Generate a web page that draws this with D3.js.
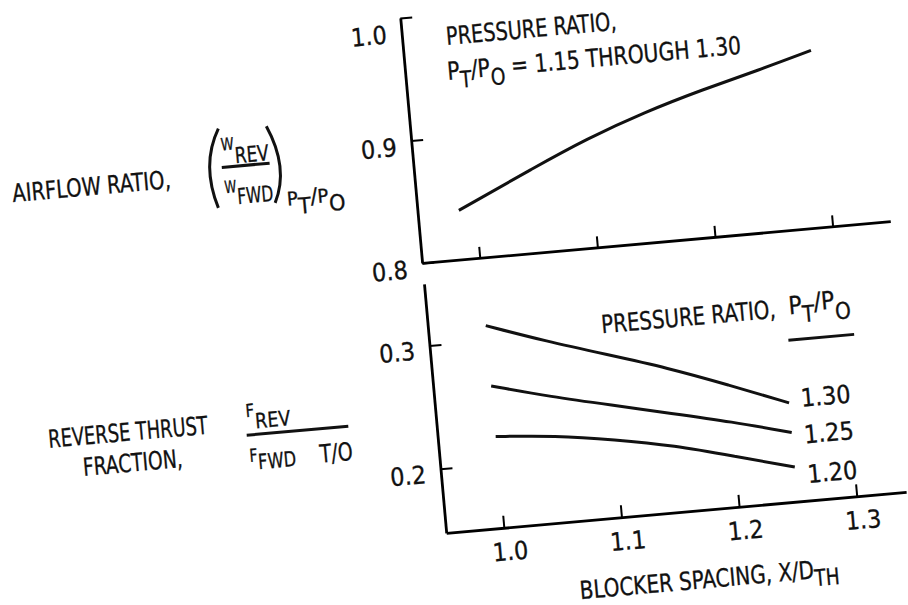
<!DOCTYPE html>
<html>
<head>
<meta charset="utf-8">
<script src="https://cdn.jsdelivr.net/npm/d3@7"></script>
<style>
  body { margin: 0; background: #fff; }
  text { font-family: "DejaVu Sans Condensed", "Liberation Sans Narrow", sans-serif; font-size: 25px;
         fill: #111; stroke: #111; stroke-width: 0.3px; }
</style>
</head>
<body>
<script>
svgWidth = 908
svgHeight = 605

// axis ticks
xTicks = [1.0, 1.1, 1.2, 1.3]
airTicks = [0.8, 0.9, 1.0]
thrustTicks = [0.2, 0.3]

// airflow ratio (same curve for PT/PO = 1.15 through 1.30)
airX = [0.986, 1.0, 1.05, 1.10, 1.15, 1.20, 1.25, 1.295]
airY = [0.840, 0.846, 0.868, 0.889, 0.906, 0.920, 0.932, 0.944]

// reverse thrust fraction for each pressure ratio
thrustX = [1.0, 1.05, 1.10, 1.15, 1.20, 1.25]
pressureRatios = ['1.30', '1.25', '1.20']
thrust130 = [0.312, 0.295, 0.280, 0.265, 0.247, 0.228]
thrust125 = [0.263, 0.250, 0.239, 0.228, 0.217, 0.204]
thrust120 = [0.222, 0.2185, 0.211, 0.202, 0.189, 0.176]

thrustSeries = [thrust130, thrust125, thrust120]
labelDy = [5, 12, 17]   // curve label offsets below each curve end

var svg = d3.select('body').append('svg')
    .attr('width', svgWidth)
    .attr('height', svgHeight)

// the scanned figure sits slightly rotated on the page
var chart = svg.append('g')
    .attr('transform', 'translate(422, 262) rotate(-5.1)')

xScale = d3.scaleLinear()
    .domain([0.951, 1.349])
    .range([0, 470])

xScaleLow = xScale.copy()
    .domain([0.951, 1.342])
    .range([0, xScale(1.342)])

yAir = d3.scaleLinear()
    .domain([0.8, 1.0])
    .range([1, -245])

yThrust = d3.scaleLinear()
    .domain([0.148, 0.35])
    .range([272, 22])

function styleAxis(g) {
  g.attr('font-size', null).attr('font-family', null)
  g.select('.domain').attr('stroke-width', 2.8)
  g.selectAll('.tick line').attr('stroke-width', 2)
}

function squeeze(sel, len) {
  sel.attr('textLength', len).attr('lengthAdjust', 'spacingAndGlyphs')
}

// ---- top panel: airflow ratio ----
chart.append('g')
    .attr('transform', 'translate(0, ' + yAir(0.8) + ')')
    .call(d3.axisBottom(xScale).tickValues(xTicks).tickSize(-11).tickSizeOuter(0).tickFormat(''))
    .call(styleAxis)

chart.append('g')
    .call(d3.axisLeft(yAir).tickValues(airTicks).tickSize(-12).tickSizeOuter(0)
            .tickPadding(15).tickFormat(d3.format('.1f')))
    .call(styleAxis)
    .selectAll('text')
      .attr('dy', function(d) { return d == 1.0 ? '0.95em' : '0.55em'; })

var airLine = d3.line()
    .x(function(d) { return xScale(d[0]); })
    .y(function(d) { return yAir(d[1]); })
    .curve(d3.curveBasis)

chart.append('path')
    .datum(d3.zip(airX, airY))
    .attr('d', airLine)
    .attr('fill', 'none')
    .attr('stroke', '#111')
    .attr('stroke-width', 3)

chart.append('text').attr('x', 44).attr('y', -214).call(squeeze, 171).text('PRESSURE RATIO,')
var note2 = chart.append('text').attr('x', 42).attr('y', -179).call(squeeze, 295)
note2.append('tspan').text('P')
note2.append('tspan').attr('font-size', 23).attr('dy', 9).text('T')
note2.append('tspan').attr('dy', -9).text('/P')
note2.append('tspan').attr('font-size', 23).attr('dy', 9).text('O')
note2.append('tspan').attr('dy', -9).text(' = 1.15 THROUGH 1.30')

// left label: airflow ratio
chart.append('text').attr('x', -402).attr('y', -96).call(squeeze, 159).text('AIRFLOW RATIO,')

var paren = chart.append('g').attr('fill', 'none').attr('stroke', '#111').attr('stroke-width', 3)
paren.append('path').attr('d', 'M-191,-151 Q-211.5,-116.5 -198,-72')
paren.append('path').attr('d', 'M-143,-149 Q-124,-105.5 -141,-72')
paren.append('line').attr('x1', -191).attr('y1', -112).attr('x2', -143).attr('y2', -112)

var num = chart.append('text').attr('x', -190).attr('y', -129).call(squeeze, 47)
num.append('tspan').attr('font-size', 17).text('W')
num.append('tspan').attr('font-size', 22).attr('dy', 14).text('REV')

var den = chart.append('text').attr('x', -190).attr('y', -86).call(squeeze, 48)
den.append('tspan').attr('font-size', 17).text('W')
den.append('tspan').attr('font-size', 22).attr('dy', 12).text('FWD')

var sub = chart.append('text').attr('x', -129).attr('y', -68).call(squeeze, 58)
sub.append('tspan').attr('font-size', 19).text('P')
sub.append('tspan').attr('font-size', 22).attr('dy', 9).text('T')
sub.append('tspan').attr('font-size', 22).attr('dy', -9).text('/')
sub.append('tspan').attr('font-size', 19).text('P')
sub.append('tspan').attr('font-size', 22).attr('dy', 9).text('O')

// ---- bottom panel: reverse thrust fraction ----
chart.append('g')
    .attr('transform', 'translate(0, ' + yThrust(0.148) + ')')
    .call(d3.axisBottom(xScaleLow).tickValues(xTicks).tickSize(-12).tickSizeOuter(0)
            .tickPadding(15).tickFormat(d3.format('.1f')))
    .call(styleAxis)
    .selectAll('text').attr('x', 4)

chart.append('g')
    .call(d3.axisLeft(yThrust).tickValues(thrustTicks).tickSize(-12).tickSizeOuter(0)
            .tickPadding(15).tickFormat(d3.format('.1f')))
    .call(styleAxis)
    .selectAll('text').attr('dy', '0.5em')

var thrustLine = d3.line()
    .x(function(d) { return xScale(d[0]); })
    .y(function(d) { return yThrust(d[1]); })
    .curve(d3.curveBasis)

thrustSeries.forEach(function(vals, i) {
  chart.append('path')
      .datum(d3.zip(thrustX, vals))
      .attr('d', thrustLine)
      .attr('fill', 'none')
      .attr('stroke', '#111')
      .attr('stroke-width', 3)

  var last = vals.length - 1
  chart.append('text')
      .attr('x', xScale(thrustX[last]) + 12)
      .attr('y', yThrust(vals[last]) + labelDy[i])
      .text(pressureRatios[i])
})

// legend title
chart.append('text').attr('x', 173).attr('y', 87).call(squeeze, 175).text('PRESSURE RATIO,')
var leg = chart.append('text').attr('x', 361).attr('y', 85).call(squeeze, 62)
leg.append('tspan').text('P')
leg.append('tspan').attr('font-size', 23).attr('dy', 9).text('T')
leg.append('tspan').attr('dy', -11).text('/P')
leg.append('tspan').attr('font-size', 23).attr('dy', 11).text('O')
chart.append('line')
    .attr('x1', 358).attr('y1', 110.5).attr('x2', 424).attr('y2', 110.5)
    .attr('stroke', '#111').attr('stroke-width', 3)

// left label: reverse thrust fraction
chart.append('text').attr('x', -388).attr('y', 152).call(squeeze, 160).text('REVERSE THRUST')
chart.append('text').attr('x', -356).attr('y', 183).call(squeeze, 100).text('FRACTION,')

var fnum = chart.append('text').attr('x', -189).attr('y', 139).call(squeeze, 44)
fnum.append('tspan').attr('font-size', 18).text('F')
fnum.append('tspan').attr('font-size', 21).attr('dy', 12).text('REV')

chart.append('line')
    .attr('x1', -190).attr('y1', 157).attr('x2', -88).attr('y2', 157)
    .attr('stroke', '#111').attr('stroke-width', 3)

var fden = chart.append('text').attr('x', -189).attr('y', 184).call(squeeze, 46)
fden.append('tspan').attr('font-size', 18).text('F')
fden.append('tspan').attr('font-size', 21).attr('dy', 8).text('FWD')
chart.append('text').attr('x', -119).attr('y', 191).call(squeeze, 33)
    .attr('font-size', 21).text('T/O')

// x axis title
var xt = chart.append('text').attr('x', 128).attr('y', 350).call(squeeze, 260)
xt.append('tspan').text('BLOCKER SPACING, X/D')
xt.append('tspan').attr('font-size', 23).attr('dy', 8).text('TH')
</script>
</body>
</html>
